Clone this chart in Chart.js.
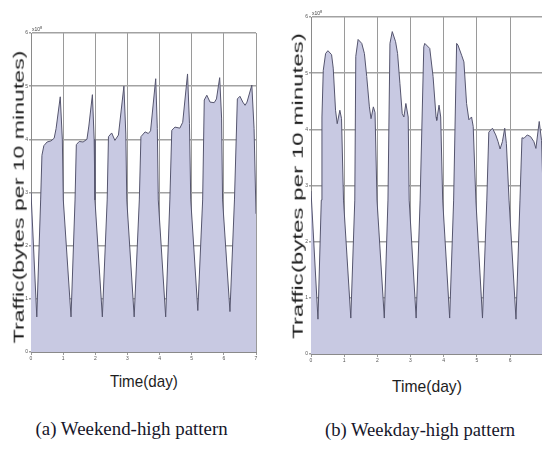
<!DOCTYPE html>
<html>
<head>
<meta charset="utf-8">
<script src="https://cdn.jsdelivr.net/npm/chart.js@4.4.1/dist/chart.umd.min.js"></script>
<style>
  html, body { margin: 0; padding: 0; background: #fff; width: 542px; height: 450px; overflow: hidden; position: relative; }
  canvas { position: absolute; }
  .lbl { position: absolute; white-space: nowrap; line-height: 1; transform-origin: center center; }
  .ytitle { font: 14px "Liberation Sans", Arial, sans-serif; color: #1e1e1e; }
  .xtitle { font: 17px "Liberation Sans", Arial, sans-serif; color: #1e1e1e; }
  .caption { font: 18px "Liberation Serif", "Times New Roman", serif; color: #16162a; }
</style>
</head>
<body>
<canvas id="chart-a" width="270" height="370" style="left:0;top:0"></canvas>
<canvas id="chart-b" width="290" height="372" style="left:272px;top:0"></canvas>
<script>
// traffic in units of 1e8 bytes per 10 minutes
const DAY_TICKS = [0, 1, 2, 3, 4, 5, 6, 7];
const TRAFFIC_TICKS = [0, 1, 2, 3, 4, 5, 6];

const WEEKEND_DAY = [0, 0.18, 0.30, 0.34, 0.40, 0.50, 0.62, 0.72, 0.78, 0.91, 0.975, 1.005,
  1.245, 1.37, 1.41, 1.50, 1.62, 1.74, 1.80, 1.91, 1.965, 1.99,
  2.22, 2.37, 2.41, 2.51, 2.61, 2.72, 2.89, 2.95, 2.98,
  3.21, 3.37, 3.42, 3.55, 3.65, 3.72, 3.88, 3.93, 3.96,
  4.19, 4.32, 4.38, 4.48, 4.63, 4.72, 4.87, 4.93, 4.97,
  5.19, 5.34, 5.39, 5.47, 5.57, 5.70, 5.77, 5.87, 5.93, 5.96,
  6.19, 6.33, 6.42, 6.50, 6.59, 6.66, 6.72, 6.87, 6.94, 7.0];
const WEEKEND_TRAFFIC = [3.0, 0.66, 2.86, 3.7, 3.88, 3.95, 3.97, 4.02, 4.2, 4.80, 4.0, 2.86,
  0.66, 2.86, 3.90, 3.96, 3.95, 4.0, 4.25, 4.84, 4.0, 2.86,
  0.66, 2.86, 4.05, 4.12, 3.98, 4.08, 5.00, 4.1, 2.86,
  0.66, 2.86, 4.05, 4.14, 4.11, 4.16, 5.14, 4.2, 2.86,
  0.66, 2.86, 4.17, 4.23, 4.21, 4.32, 5.23, 4.3, 2.86,
  0.78, 2.86, 4.74, 4.83, 4.70, 4.69, 4.76, 5.16, 4.4, 2.86,
  0.76, 2.86, 4.76, 4.81, 4.70, 4.64, 4.70, 5.02, 4.2, 2.6];

const WEEKDAY_DAY = [0, 0.21, 0.31, 0.33, 0.37, 0.44, 0.51, 0.62, 0.67, 0.74, 0.79, 0.87, 0.92, 0.98,
  1.20, 1.32, 1.35, 1.42, 1.53, 1.61, 1.68, 1.76, 1.81, 1.88, 1.93, 1.99,
  2.21, 2.32, 2.38, 2.45, 2.55, 2.61, 2.68, 2.75, 2.80, 2.86, 2.93, 2.96,
  3.17, 3.29, 3.40, 3.43, 3.58, 3.68, 3.77, 3.79, 3.86, 3.91, 3.97,
  4.18, 4.30, 4.39, 4.43, 4.54, 4.61, 4.69, 4.76, 4.84, 4.89, 4.97,
  5.17, 5.30, 5.36, 5.47, 5.57, 5.64, 5.70, 5.77, 5.84, 5.89, 5.97,
  6.18, 6.30, 6.36, 6.42, 6.52, 6.62, 6.72, 6.78, 6.88, 6.95, 7.0];
const WEEKDAY_TRAFFIC = [2.9, 0.62, 2.74, 4.22, 5.05, 5.35, 5.40, 5.33, 5.09, 4.34, 4.10, 4.34, 4.19, 2.74,
  0.64, 2.74, 5.3, 5.6, 5.53, 5.35, 4.94, 4.4, 4.19, 4.4, 4.3, 2.74,
  0.64, 2.74, 5.53, 5.74, 5.56, 5.35, 4.82, 4.28, 4.22, 4.46, 4.22, 2.74,
  0.64, 2.74, 5.47, 5.53, 5.44, 4.94, 4.22, 4.16, 4.43, 4.22, 2.74,
  0.64, 2.74, 5.53, 5.5, 5.32, 5.2, 4.46, 4.17, 4.22, 4.05, 2.74,
  0.64, 2.74, 3.95, 4.02, 3.90, 3.78, 3.65, 3.78, 4.02, 3.75, 2.74,
  0.62, 2.74, 3.85, 3.84, 3.90, 3.87, 3.78, 3.66, 4.14, 3.8, 2.8];

// little "x10^8" multiplier above the top-left corner of each plot
const exponentLabel = {
  id: "exponentLabel",
  afterDraw(chart) {
    const { ctx, chartArea } = chart;
    ctx.save();
    ctx.fillStyle = "#444";
    ctx.font = "5px 'Liberation Sans', Arial, sans-serif";
    ctx.textBaseline = "bottom";
    ctx.fillText("x10", chartArea.left + 1, chartArea.top - 1);
    ctx.font = "4px 'Liberation Sans', Arial, sans-serif";
    ctx.fillText("8", chartArea.left + 9, chartArea.top - 3);
    ctx.restore();
  },
};

function makeChart(id, days, traffic, pad, yWidth) {
  const ctx = document.getElementById(id).getContext("2d");
  return new Chart(ctx, {
    type: "line",
    data: {
      datasets: [{
        data: days.map((d, i) => ({ x: d, y: traffic[i] })),
        borderColor: "#55556e", borderWidth: 1,
        backgroundColor: "#c8c9e2", fill: "origin",
        pointRadius: 0, tension: 0,
      }],
    },
    options: {
      responsive: false, animation: false, devicePixelRatio: 1,
      layout: { padding: pad },
      plugins: { legend: { display: false }, tooltip: { enabled: false } },
      scales: {
        x: {
          type: "linear", min: 0, max: 7,
          afterBuildTicks: s => { s.ticks = DAY_TICKS.map(v => ({ value: v })); },
          afterFit: s => { s.height = 18; },
          ticks: { color: "#555", font: { size: 5 }, padding: 1, maxRotation: 0 },
          grid: { color: "#9a9a9a", lineWidth: 1, tickLength: 3 },
          border: { color: "#8a8a8a" },
        },
        y: {
          min: 0, max: 6,
          afterBuildTicks: s => { s.ticks = TRAFFIC_TICKS.map(v => ({ value: v })); },
          afterFit: s => { s.width = yWidth; },
          ticks: { color: "#555", font: { size: 5 }, padding: 1 },
          grid: { color: "#a2a2a2", lineWidth: 1.5, tickLength: 2 },
          border: { color: "#8a8a8a" },
        },
      },
    },
    plugins: [exponentLabel],
  });
}

makeChart("chart-a", WEEKEND_DAY, WEEKEND_TRAFFIC, { top: 33, right: 14, left: 0, bottom: 0 }, 31);
makeChart("chart-b", WEEKDAY_DAY, WEEKDAY_TRAFFIC, { top: 17, right: 18.8, left: 0, bottom: 0 }, 39);

// titles and captions as html text, stretched to the reference's lengths
function placeLabel(text, cls, cx, cy, len, vertical) {
  const el = document.createElement("div");
  el.className = "lbl " + cls;
  el.textContent = text;
  document.body.appendChild(el);
  const w = el.offsetWidth, h = el.offsetHeight;
  el.style.left = (cx - w / 2) + "px";
  el.style.top = (cy - h / 2) + "px";
  el.style.transform = (vertical ? "rotate(-90deg) " : "") + `scaleX(${len / w})`;
}

placeLabel("Traffic(bytes per 10 minutes)", "ytitle", 18, 197, 292, true);
placeLabel("Traffic(bytes per 10 minutes)", "ytitle", 297, 186, 305, true);
placeLabel("Time(day)", "xtitle", 144, 382, 68, false);
placeLabel("Time(day)", "xtitle", 427, 387, 70, false);
placeLabel("(a) Weekend-high pattern", "caption", 131, 429, 192, false);
placeLabel("(b) Weekday-high pattern", "caption", 420, 430, 190, false);
</script>
</body>
</html>
